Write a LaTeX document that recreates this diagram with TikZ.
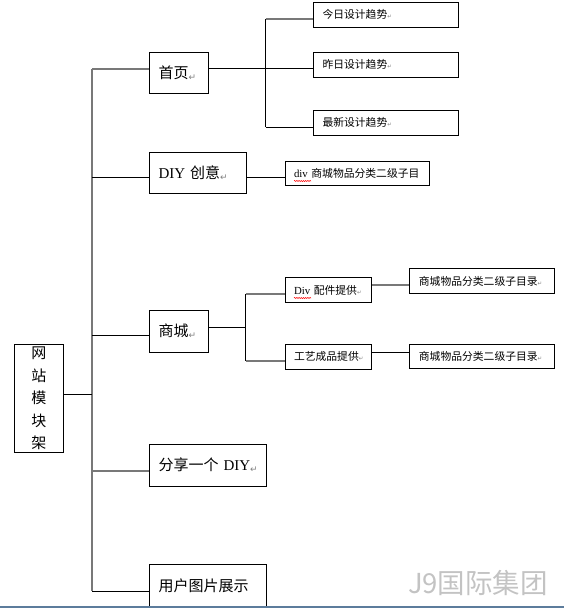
\documentclass[tikz,border=0pt]{standalone}
\usepackage{fontspec}
\setmainfont{Liberation Serif}
\newfontfamily\cjk{Noto Sans CJK SC}
\newfontfamily\dv{DejaVu Sans}
\usetikzlibrary{decorations.pathmorphing,calc}
\definecolor{lgray}{RGB}{120,120,120}
\definecolor{wmgray}{RGB}{195,195,195}
\definecolor{bline}{RGB}{92,124,156}
\newcommand\pmark{{\dv\fontsize{9}{9}\selectfont\color{gray}\raisebox{-1.5pt}{↵}}}
\newcommand\smark{{\dv\fontsize{5.5}{5.5}\selectfont\color{gray}↵}}
\begin{document}
\begin{tikzpicture}[x=1pt,y=-1pt,
  box/.style={draw=black, line width=1pt, rectangle, anchor=west, inner xsep=9pt, inner ysep=0pt, align=left},
  bigtxt/.style={font=\fontsize{15}{18}\selectfont},
  smalltxt/.style={font=\fontsize{10.8}{12}\selectfont},
  blk/.style={draw=black, line width=1pt},
  gry/.style={draw=lgray, line width=1.7pt},
  wavy/.style={draw=red, line width=0.5pt, decorate, decoration={snake, amplitude=0.6pt, segment length=2.2pt}}
]
\useasboundingbox (0,0) rectangle (564,608);

% root
\node[draw=black, line width=1pt, rectangle, inner sep=0pt, minimum width=49.7, minimum height=108,
      align=center, font=\fontsize{15}{22.5}\selectfont\cjk] (root) at (38.9,398.3)
  {网\\站\\模\\块\\架};

% first level
\node[box, bigtxt, text width=40.5, minimum height=41.4] (home) at (149,73) {{\cjk 首页}\pmark};
\node[box, bigtxt, text width=78.7, minimum height=41.4] (diy) at (149,173) {DIY~{\cjk 创意}\pmark};
\node[box, bigtxt, text width=40.5, minimum height=42] (shop) at (149,331.3) {{\cjk 商城}\pmark};
\node[box, bigtxt, text width=98.5, minimum height=42] (share) at (149,465.3) {\mbox{{\cjk 分享一个}~DIY\pmark}};
\node[box, bigtxt, text width=98.5, minimum height=42.4] (user) at (149,585.5) {{\cjk 用户图片展示}};

% second level
\node[box, smalltxt, text width=126.5, minimum height=25] (h1) at (313,14.8) {{\cjk 今日设计趋势}\smark};
\node[box, smalltxt, text width=126.5, minimum height=25] (h2) at (313,64.8) {{\cjk 昨日设计趋势}\smark};
\node[box, smalltxt, text width=126.5, minimum height=25] (h3) at (313,122.7) {{\cjk 最新设计趋势}\smark};
\node[box, smalltxt, text width=126.3, minimum height=24] (d1) at (284.5,173) {div {\cjk 商城物品分类二级子目}};
\node[box, smalltxt, text width=68.5, minimum height=24.6] (s1) at (284.5,290) {Div {\cjk 配件提供}\smark};
\node[box, smalltxt, text width=68.5, minimum height=25] (s2) at (284.5,356.8) {{\cjk 工艺成品提供}\smark};
\node[box, smalltxt, text width=126.6, minimum height=24.6] (s1r) at (409.4,281) {{\cjk 商城物品分类二级子目录}\smark};
\node[box, smalltxt, text width=126.6, minimum height=24.7] (s2r) at (409.4,356.6) {{\cjk 商城物品分类二级子目录}\smark};

% watermark
\node[font=\fontsize{27.5}{27.5}\selectfont\cjk, text=wmgray, inner sep=0pt] (wm) at (478,583) {J9国际集团};

% trunk coordinates
\coordinate (ttop) at (92,69);
\coordinate (tdiy) at (92,177.3);
\coordinate (tshop) at (92,335.3);
\coordinate (troot) at (92,394);
\coordinate (tshare) at (92,470.7);
\coordinate (tbot) at (92,591.3);

\draw[gry] (ttop) -- (tbot);
\draw[gry] (ttop) -- (home.west |- ttop);
\draw[blk] (tdiy) -- (diy.west |- tdiy);
\draw[blk] (tshop) -- (shop.west |- tshop);
\draw[blk] (root.east |- troot) -- (troot);
\draw[gry] (tshare) -- (share.west |- tshare);
\draw[blk] (tbot) -- (user.west |- tbot);

% home bracket
\coordinate (hb) at (265.5,68.3);
\coordinate (hbt) at (265.5,19);
\coordinate (hbb) at (265.5,127);
\draw[blk] (home.east |- hb) -- (h2.west |- hb);
\draw[blk] (hbt) -- (hbb);
\draw[gry] (hbt) -- (h1.west |- hbt);
\draw[blk] (hbb) -- (h3.west |- hbb);

% diy
\coordinate (dl) at (265,177.3);
\draw[blk] (diy.east |- dl) -- (d1.west |- dl);

% shop bracket
\coordinate (sb) at (245.7,327);
\coordinate (sbt) at (245.7,294);
\coordinate (sbb) at (245.7,360.7);
\draw[blk] (shop.east |- sb) -- (sb);
\draw[blk] (sbt) -- (sbb);
\draw[gry] (sbt) -- (s1.west |- sbt);
\draw[gry] (sbb) -- (s2.west |- sbb);
\coordinate (r1) at (390,285.3);
\coordinate (r2) at (390,352.7);
\draw[gry] (s1.east |- r1) -- (s1r.west |- r1);
\draw[blk] (s2.east |- r2) -- (s2r.west |- r2);

% spell-check underlines
\draw[wavy] ($(d1.west)+(9.5,8)$) -- ++(17,0);
\draw[wavy] ($(s1.west)+(9.5,8)$) -- ++(17,0);

% bottom rule
\draw[draw=bline, line width=2pt] (0,607) -- (564,607);
\end{tikzpicture}
\end{document}
